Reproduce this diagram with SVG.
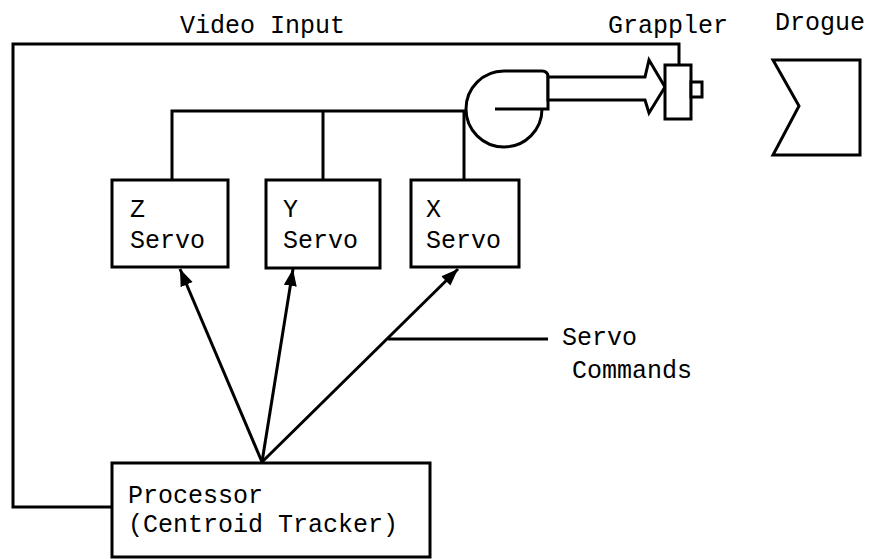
<svg xmlns="http://www.w3.org/2000/svg" width="872" height="559" viewBox="0 0 872 559">
  <style>
    .ln { fill: none; stroke: #000; stroke-width: 3; stroke-linejoin: miter; }
    .box { fill: #fff; stroke: #000; stroke-width: 3; }
    .tx { font-family: "Liberation Mono", "Courier New", monospace; font-size: 25px; fill: #000; }
  </style>
  <defs>
    <marker id="head" markerUnits="userSpaceOnUse" markerWidth="18" markerHeight="14" refX="17" refY="6.5" orient="auto">
      <path d="M0,0 L17,6.5 L0,13 Z" fill="#000"/>
    </marker>
  </defs>
  <rect width="872" height="559" fill="#fff"/>

  <!-- connectors -->
  <g id="connectors">
    <!-- video feedback loop from processor to grappler camera -->
    <polyline class="ln" points="112,507 13,507 13,44 679,44 679,65"/>
    <!-- servo drive bus to the pan/tilt head -->
    <polyline class="ln" points="172,180 172,111 466,111"/>
    <line class="ln" x1="323" y1="111" x2="323" y2="180"/>
    <line class="ln" x1="464" y1="111" x2="464" y2="180"/>
    <!-- servo command lines -->
    <line class="ln" x1="262" y1="462" x2="180" y2="269" marker-end="url(#head)"/>
    <line class="ln" x1="262" y1="462" x2="293" y2="269" marker-end="url(#head)"/>
    <line class="ln" x1="262" y1="462" x2="458" y2="269" marker-end="url(#head)"/>
    <line class="ln" x1="388" y1="339" x2="548" y2="339"/>
  </g>

  <!-- pan/tilt head with boom arrow -->
  <g id="mount">
    <path class="ln" d="M504,71 A38,38 0 1 0 542,109"/>
    <path class="ln" d="M504,71 L542,71 Q548,71 548,77 L548,109 L495,109"/>
    <polygon class="box" points="548,77 645,77 649,60 665,87 649,113 645,100 548,100"/>
  </g>

  <!-- grappler -->
  <g id="grappler">
    <rect class="box" x="665" y="65" width="26" height="54"/>
    <rect class="box" x="691" y="82" width="11" height="15"/>
    <text class="tx" x="608" y="33">Grappler</text>
  </g>

  <!-- drogue -->
  <g id="drogue">
    <polygon class="ln" points="773,60 860,60 860,155 773,155 799,106"/>
    <text class="tx" x="775" y="30">Drogue</text>
  </g>

  <text class="tx" x="180" y="33">Video Input</text>

  <g id="z-servo">
    <rect class="box" x="112" y="180" width="116" height="87"/>
    <text class="tx" x="130" y="217">Z</text>
    <text class="tx" x="130" y="248">Servo</text>
  </g>
  <g id="y-servo">
    <rect class="box" x="266" y="180" width="114" height="88"/>
    <text class="tx" x="283" y="217">Y</text>
    <text class="tx" x="283" y="248">Servo</text>
  </g>
  <g id="x-servo">
    <rect class="box" x="411" y="180" width="108" height="87"/>
    <text class="tx" x="426" y="217">X</text>
    <text class="tx" x="426" y="248">Servo</text>
  </g>

  <g id="processor">
    <rect class="box" x="112" y="463" width="318" height="94"/>
    <text class="tx" x="128" y="503">Processor</text>
    <text class="tx" x="128" y="532">(Centroid Tracker)</text>
  </g>

  <g id="servo-commands-label">
    <text class="tx" x="562" y="345">Servo</text>
    <text class="tx" x="572" y="378">Commands</text>
  </g>
</svg>
